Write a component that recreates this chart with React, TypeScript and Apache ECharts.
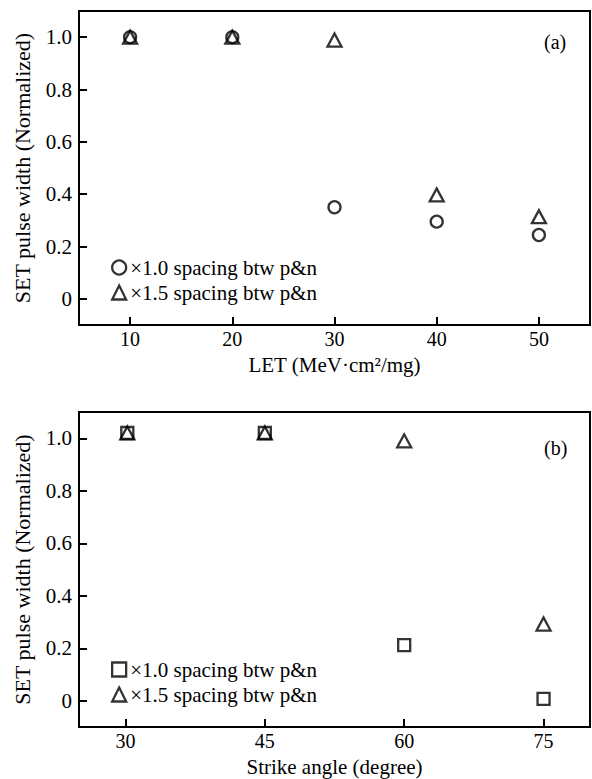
import React, { useEffect, useRef } from 'react';
import * as echarts from 'echarts';

// ---- data ----
const letValues = [10, 20, 30, 40, 50];
const letSpacing10 = [1.0, 1.0, 0.35, 0.295, 0.244];
const letSpacing15 = [1.0, 1.0, 0.989, 0.397, 0.314];
const angleValues = [30.2, 45, 60, 75];
const angleSpacing10 = [1.02, 1.02, 0.212, 0.007];
const angleSpacing15 = [1.02, 1.02, 0.99, 0.292];
const letTicks = [10, 20, 30, 40, 50];
const angleTicks = [30, 45, 60, 75];
const yTicks = [0, 0.2, 0.4, 0.6, 0.8, 1.0];
const name10 = '×1.0 spacing btw p&n';
const name15 = '×1.5 spacing btw p&n';
const xNameA = 'LET (MeV·cm²/mg)';
const xNameB = 'Strike angle (degree)';
const yName = 'SET pulse width (Normalized)';
const panelA = '(a)';
const panelB = '(b)';

const FONT = '"Liberation Serif", "Times New Roman", serif';

const zip = (xs: number[], ys: number[]) => xs.map((x, i) => [x, ys[i]]);

const hollow = { color: 'rgba(0,0,0,0)', borderColor: '#000', borderWidth: 2.3 };

function xAxisCfg(gridIndex: number, min: number, max: number, ticks: number[], name: string) {
  return {
    type: 'value',
    gridIndex,
    min,
    max,
    name,
    nameLocation: 'middle',
    nameGap: 29,
    nameTextStyle: { fontFamily: FONT, fontSize: 21, color: '#000' },
    axisLine: { show: true, onZero: false, lineStyle: { color: '#000', width: 2 } },
    axisTick: { show: true, inside: true, length: 8, customValues: ticks, lineStyle: { color: '#000', width: 2 } },
    axisLabel: { show: true, customValues: ticks, margin: 4, fontFamily: FONT, fontSize: 20, color: '#000' },
    splitLine: { show: false },
  };
}

function yAxisCfg(gridIndex: number) {
  return {
    type: 'value',
    gridIndex,
    min: -0.1,
    max: 1.1,
    name: yName,
    nameLocation: 'middle',
    nameRotate: 90,
    nameGap: 46,
    nameTextStyle: { fontFamily: FONT, fontSize: 22, color: '#000' },
    axisLine: { show: true, onZero: false, lineStyle: { color: '#000', width: 2 } },
    axisTick: { show: true, inside: true, length: 8, customValues: yTicks, lineStyle: { color: '#000', width: 2 } },
    axisLabel: {
      show: true,
      customValues: yTicks,
      margin: 7,
      fontFamily: FONT,
      fontSize: 21,
      color: '#000',
      formatter: (v: number) => (Math.abs(v) < 1e-9 ? '0' : v.toFixed(1)),
    },
    splitLine: { show: false },
  };
}

function legendCfg(top: number, firstIcon: string) {
  return {
    orient: 'vertical',
    left: 111,
    top,
    padding: 0,
    itemWidth: 14,
    itemHeight: 14,
    itemGap: 4,
    data: [
      { name: name10, icon: firstIcon },
      { name: name15, icon: 'triangle' },
    ],
    itemStyle: { color: 'rgba(0,0,0,0)', borderColor: '#000', borderWidth: 2.3 },
    textStyle: { fontFamily: FONT, fontSize: 21, color: '#000', padding: [0, 0, 0, -1] },
    selectedMode: false,
  };
}

export default function App() {
  const ref = useRef<HTMLDivElement>(null);
  useEffect(() => {
    if (!ref.current) return;
    const chart = echarts.init(ref.current, null, { renderer: 'svg' });
    const option: any = {
      animation: false,
      backgroundColor: '#fff',
      grid: [
        { left: 79, top: 11, width: 511, height: 314, show: true, borderColor: '#000', borderWidth: 2, backgroundColor: 'transparent' },
        { left: 79, top: 412, width: 511, height: 315, show: true, borderColor: '#000', borderWidth: 2, backgroundColor: 'transparent' },
      ],
      xAxis: [
        xAxisCfg(0, 5, 55, letTicks, xNameA),
        xAxisCfg(1, 25, 80, angleTicks, xNameB),
      ],
      yAxis: [yAxisCfg(0), yAxisCfg(1)],
      legend: [legendCfg(257, 'circle'), legendCfg(659, 'rect')],
      series: [
        {
          type: 'scatter', name: name10, xAxisIndex: 0, yAxisIndex: 0,
          symbol: 'circle', symbolSize: 12, itemStyle: hollow,
          data: zip(letValues, letSpacing10),
        },
        {
          type: 'scatter', name: name15, xAxisIndex: 0, yAxisIndex: 0,
          symbol: 'triangle', symbolSize: [14, 13], itemStyle: hollow,
          data: zip(letValues, letSpacing15),
        },
        {
          type: 'scatter', name: name10, xAxisIndex: 1, yAxisIndex: 1,
          symbol: 'rect', symbolSize: 12, itemStyle: hollow,
          data: zip(angleValues, angleSpacing10),
        },
        {
          type: 'scatter', name: name15, xAxisIndex: 1, yAxisIndex: 1,
          symbol: 'triangle', symbolSize: [14, 13], itemStyle: hollow,
          data: zip(angleValues, angleSpacing15),
        },
      ],
      graphic: [
        { type: 'text', left: 544, top: 32, style: { text: panelA, fontFamily: FONT, fontSize: 20, fill: '#000' } },
        { type: 'text', left: 544, top: 438, style: { text: panelB, fontFamily: FONT, fontSize: 20, fill: '#000' } },
      ],
    };
    chart.setOption(option);
    return () => chart.dispose();
  }, []);
  return (
    <div
      ref={ref}
      style={{ position: 'fixed', left: 0, top: 0, width: 592, height: 779 }}
    />
  );
}
